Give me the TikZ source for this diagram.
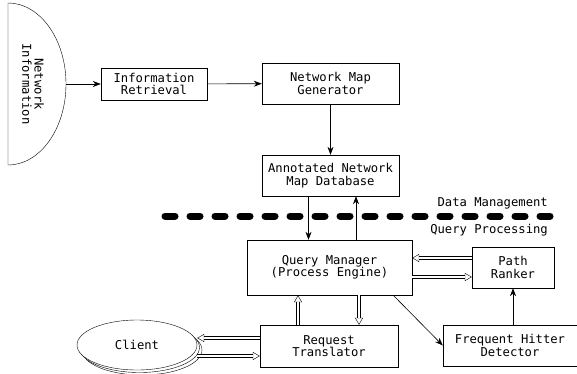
\documentclass[tikz,border=0pt]{standalone}
\usepackage{fontspec}
\setmonofont{DejaVu Sans Mono}
\usetikzlibrary{arrows.meta,positioning,shapes,shadows}

\begin{document}
\begin{tikzpicture}
              [x=1pt,y=-1pt,
                every node/.style={rectangle,draw,align=center,inner sep=0pt,
                  font=\ttfamily\fontsize{12.2}{12.4}\selectfont},
                label/.style={draw=none},
                arr/.style={-{Stealth[length=8pt,width=6pt]},semithick},
                dbltip/.style={-{Triangle[open,length=7pt,width=8pt]}},
                dblline/.style={double,double distance=2.5pt,shorten >=6.6pt},
                sepline/.style={line width=7pt,line cap=round,dash pattern=on 10pt off 15pt}]
              \useasboundingbox (0,0) rectangle (577,373);
              % source of the network information
              \draw (8,3) arc[start angle=-90,end angle=90,x radius=58,y radius=81] -- cycle;
              \node[label,rotate=-90] (netinfo) at (33,84) {Network\\Information};
              \coordinate (netout) at (66,84);
              \node[minimum width=106pt,minimum height=32pt] (retr) at (154,84) {Information\\Retrieval};
              \node[minimum width=137pt,minimum height=41pt] (mapgen) at (330.5,83.5) {Network Map\\Generator};
              \node[minimum width=137pt,minimum height=41pt] (mapdb) at (330.5,175.5) {Annotated Network\\Map Database};
              \node[minimum width=165pt,minimum height=55pt] (qm) at (329.5,267.5) {Query Manager\\(Process Engine)};
              \node[minimum width=82pt,minimum height=41pt] (ranker) at (513,267.5) {Path\\Ranker};
              \node[minimum width=134pt,minimum height=41pt] (hitter) at (510,345.5) {Frequent Hitter\\Detector};
              \node[minimum width=138pt,minimum height=42pt] (transl) at (329,346) {Request\\Translator};
              \node[ellipse,minimum width=120pt,minimum height=50pt,fill=white,
                double copy shadow={shadow xshift=2.5pt,shadow yshift=-2.5pt}] (client) at (137,345) {Client};
              % layers
              \draw[sepline] (165,216) -- (550,216);
              \node[label,anchor=east] (dm) at (548,203) {Data Management};
              \node[label,anchor=east] (qp) at (548,230) {Query Processing};
              % ends of the double connectors
              \coordinate (rk1) at ([yshift=9.5pt]ranker.west);
              \coordinate (qm1) at ([yshift=9.5pt]ranker.west -| qm.east);
              \coordinate (qm2) at ([yshift=-9.5pt]qm.east);
              \coordinate (rk2) at ([yshift=-9.5pt]qm.east -| ranker.west);
              \coordinate (tr1) at ([xshift=-31pt]transl.north);
              \coordinate (qm3) at ([xshift=-31pt]transl.north |- qm.south);
              \coordinate (qm4) at ([xshift=30pt]transl.north |- qm.south);
              \coordinate (tr2) at ([xshift=30pt]transl.north);
              \coordinate (tr3) at ([yshift=8pt]transl.west);
              \coordinate (cl1) at ([yshift=8pt]transl.west -| client.east);
              \coordinate (cl2) at ([yshift=-10pt]transl.west -| client.east);
              \coordinate (tr4) at ([yshift=-10pt]transl.west);
              % connectors
              \draw[arr] (netout) -- (retr);
              \draw[arr] (retr) -- (mapgen);
              \draw[arr] (mapgen) -- (mapdb);
              \draw[arr] ([xshift=-22pt]mapdb.south) -- ([xshift=-22pt]mapdb.south |- qm.north);
              \draw[arr] ([xshift=25.5pt]mapdb.south |- qm.north) -- ([xshift=25.5pt]mapdb.south);
              \draw[arr] ([xshift=-19pt]qm.south east) -- (hitter.west);
              \draw[arr] (hitter.north -| ranker.south) -- (ranker.south);
              \foreach \from/\to in {rk1/qm1,qm2/rk2,tr1/qm3,qm4/tr2,tr3/cl1,cl2/tr4}
              {
                \draw[dbltip] (\from) -- (\to);
                \draw[dblline] (\from) -- (\to);
              }
\end{tikzpicture}
\end{document}
